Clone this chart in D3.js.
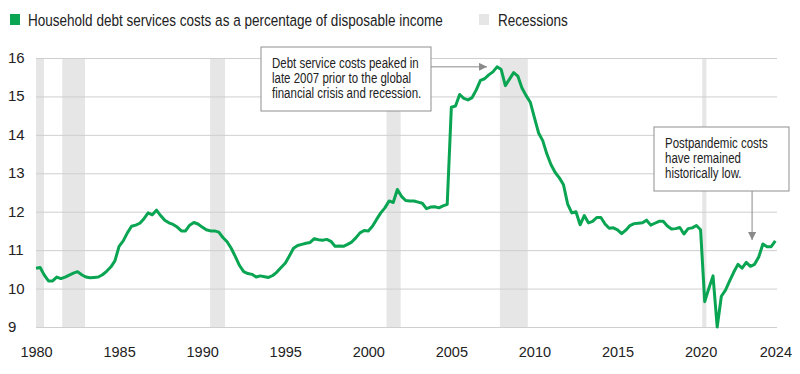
<!DOCTYPE html>
<html>
<head>
<meta charset="utf-8">
<script src="https://cdn.jsdelivr.net/npm/d3@7"></script>
<style>
  body { margin: 0; background: #fff; }
  svg text { font-family: "Liberation Sans", Arial, sans-serif; fill: #222; }
</style>
</head>
<body>
<svg width="800" height="374"></svg>
<script>
  // quarterly, 1980Q1 .. 2024Q3
  const startYear = 1980;
  const debtService = [
    10.53, 10.55, 10.35, 10.20,  // 1980
    10.20, 10.30, 10.26, 10.30,  // 1981
    10.35, 10.40, 10.44, 10.36,  // 1982
    10.30, 10.28, 10.29, 10.30,  // 1983
    10.36, 10.45, 10.56, 10.72,  // 1984
    11.10, 11.24, 11.45, 11.62,  // 1985
    11.65, 11.70, 11.82, 11.97,  // 1986
    11.92, 12.04, 11.90, 11.78,  // 1987
    11.71, 11.67, 11.60, 11.50,  // 1988
    11.50, 11.65, 11.72, 11.68,  // 1989
    11.60, 11.53, 11.50, 11.50,  // 1990
    11.47, 11.33, 11.22, 11.05,  // 1991
    10.83, 10.60, 10.44, 10.39,  // 1992
    10.37, 10.30, 10.33, 10.31,  // 1993
    10.29, 10.34, 10.43, 10.55,  // 1994
    10.66, 10.85, 11.05, 11.12,  // 1995
    11.15, 11.18, 11.20, 11.30,  // 1996
    11.27, 11.26, 11.28, 11.23,  // 1997
    11.10, 11.11, 11.10, 11.15,  // 1998
    11.21, 11.32, 11.45, 11.51,  // 1999
    11.50, 11.62, 11.80, 11.97,  // 2000
    12.10, 12.28, 12.24, 12.58,  // 2001
    12.40, 12.29, 12.28, 12.28,  // 2002
    12.25, 12.22, 12.08, 12.12,  // 2003
    12.13, 12.10, 12.15, 12.19,  // 2004
    14.72, 14.75, 15.05, 14.95,  // 2005
    14.91, 14.97, 15.17, 15.42,  // 2006
    15.46, 15.56, 15.64, 15.77,  // 2007
    15.70, 15.28, 15.45, 15.62,  // 2008
    15.53, 15.22, 15.02, 14.85,  // 2009
    14.45, 14.05, 13.85, 13.50,  // 2010
    13.22, 13.02, 12.88, 12.70,  // 2011
    12.20, 11.97, 12.00, 11.66,  // 2012
    11.90, 11.71, 11.75, 11.85,  // 2013
    11.85, 11.68, 11.57, 11.58,  // 2014
    11.53, 11.43, 11.52, 11.64,  // 2015
    11.69, 11.70, 11.71, 11.78,  // 2016
    11.65, 11.70, 11.75, 11.75,  // 2017
    11.63, 11.55, 11.56, 11.59,  // 2018
    11.42, 11.56, 11.58, 11.64,  // 2019
    11.53,  9.66, 10.01, 10.33,  // 2020
     9.00,  9.80,  9.96, 10.20,  // 2021
    10.43, 10.63, 10.53, 10.68,  // 2022
    10.58, 10.63, 10.82, 11.16,  // 2023
    11.09, 11.09, 11.24          // 2024
  ];

  const recessionStart = [1980.0, 1981.58, 1990.48, 2001.1, 2007.92, 2020.1];
  const recessionEnd   = [1980.48, 1982.95, 1991.38, 2001.95, 2009.6, 2020.35];

  const yTicks = [9, 10, 11, 12, 13, 14, 15, 16];
  const xTickYears = [1980, 1985, 1990, 1995, 2000, 2005, 2010, 2015, 2020, 2024];

  const legendLine = "Household debt services costs as a percentage of disposable income";
  const legendRec = "Recessions";
  const note1 = ["Debt service costs peaked in", "late 2007 prior to the global", "financial crisis and recession."];
  const note2 = ["Postpandemic costs", "have remained", "historically low."];

  const data = debtService.map((v, i) => ({t: startYear + i / 4, v}));
  const lastT = data[data.length - 1].t;

  const svg = d3.select("svg");
  const margin = {top: 58, right: 23, bottom: 47, left: 36};
  const width = 800, height = 374;
  const squeeze = 0.82; // condensed look for the label text

  const x = d3.scaleLinear()
    .domain([startYear, lastT + 0.1])
    .range([margin.left, width - margin.right]);

  const y = d3.scaleLinear()
    .domain([9, 16])
    .range([height - margin.bottom, margin.top]);

  // recessions
  svg.append("g")
    .selectAll("rect")
    .data(recessionStart.map((s, i) => ({s, e: recessionEnd[i]})))
    .join("rect")
    .attr("x", d => x(d.s))
    .attr("width", d => x(d.e) - x(d.s))
    .attr("y", y(16))
    .attr("height", y(9) - y(16))
    .attr("fill", "#e6e6e6");

  // gridlines
  svg.append("g")
    .attr("transform", `translate(${margin.left},0)`)
    .call(d3.axisLeft(y).tickValues(yTicks).tickSize(-(x.range()[1] - margin.left)).tickFormat(""))
    .call(g => g.select(".domain").remove())
    .call(g => g.selectAll("line").attr("stroke", "#cfcfcf"));

  // y labels
  svg.append("g")
    .selectAll("text")
    .data(yTicks)
    .join("text")
    .attr("x", 8)
    .attr("y", d => y(d) + 5)
    .style("font-size", "15px")
    .text(d => d);

  // x labels
  const xTickPos = xTickYears.map((yr, i) => i === xTickYears.length - 1 ? lastT : yr);
  svg.append("g")
    .attr("transform", `translate(0,${height - margin.bottom})`)
    .call(d3.axisBottom(x).tickValues(xTickPos).tickSize(0).tickPadding(20)
      .tickFormat((d, i) => xTickYears[i]))
    .call(g => g.select(".domain").remove())
    .call(g => g.selectAll("text")
      .style("font-family", "'Liberation Sans', sans-serif")
      .style("font-size", "14.5px")
      .attr("fill", "#222"));

  // line
  svg.append("path")
    .datum(data)
    .attr("fill", "none")
    .attr("stroke", "#0aa552")
    .attr("stroke-width", 3)
    .attr("stroke-linejoin", "round")
    .attr("d", d3.line().x(d => x(d.t)).y(d => y(d.v)));

  function label(g, str, tx, ty, size, sq = squeeze) {
    return g.append("text")
      .attr("transform", `translate(${tx},${ty}) scale(${sq},1)`)
      .style("font-size", size + "px")
      .text(str);
  }

  // legend
  const leg = svg.append("g");
  leg.append("rect").attr("x", 10).attr("y", 14).attr("width", 10).attr("height", 11).attr("fill", "#0aa552");
  label(leg, legendLine, 28, 25.5, 16.3, 0.83);
  leg.append("rect").attr("x", 479).attr("y", 14).attr("width", 10).attr("height", 11).attr("fill", "#e6e6e6");
  label(leg, legendRec, 498, 25.5, 16.3, 0.83);

  // arrow marker
  svg.append("defs").append("marker")
    .attr("id", "head")
    .attr("viewBox", "0 0 10 10")
    .attr("refX", 10).attr("refY", 5)
    .attr("markerWidth", 12).attr("markerHeight", 8)
    .attr("markerUnits", "userSpaceOnUse")
    .attr("orient", "auto")
    .append("path").attr("d", "M0,0L10,5L0,10Z").attr("fill", "#8a8a8a");

  function note(lines, bx, by, bw, bh) {
    const g = svg.append("g");
    g.append("rect").attr("x", bx).attr("y", by).attr("width", bw).attr("height", bh)
      .attr("fill", "#fff").attr("stroke", "#8f8f8f").attr("stroke-width", 1);
    lines.forEach((s, i) => label(g, s, bx + 11, by + 21 + i * 15, 14));
  }

  // peak annotation
  const peak = data.reduce((a, b) => b.v > a.v ? b : a);
  svg.append("line")
    .attr("x1", 431).attr("x2", x(peak.t) - 10)
    .attr("y1", y(peak.v)).attr("y2", y(peak.v))
    .attr("stroke", "#8a8a8a").attr("marker-end", "url(#head)");
  note(note1, 261, 47, 170, 64);

  // postpandemic annotation
  const px = x(2023.1);
  svg.append("line")
    .attr("x1", px).attr("x2", px)
    .attr("y1", 191).attr("y2", 240)
    .attr("stroke", "#8a8a8a").attr("marker-end", "url(#head)");
  note(note2, 654, 127, 135, 64);
</script>
</body>
</html>
